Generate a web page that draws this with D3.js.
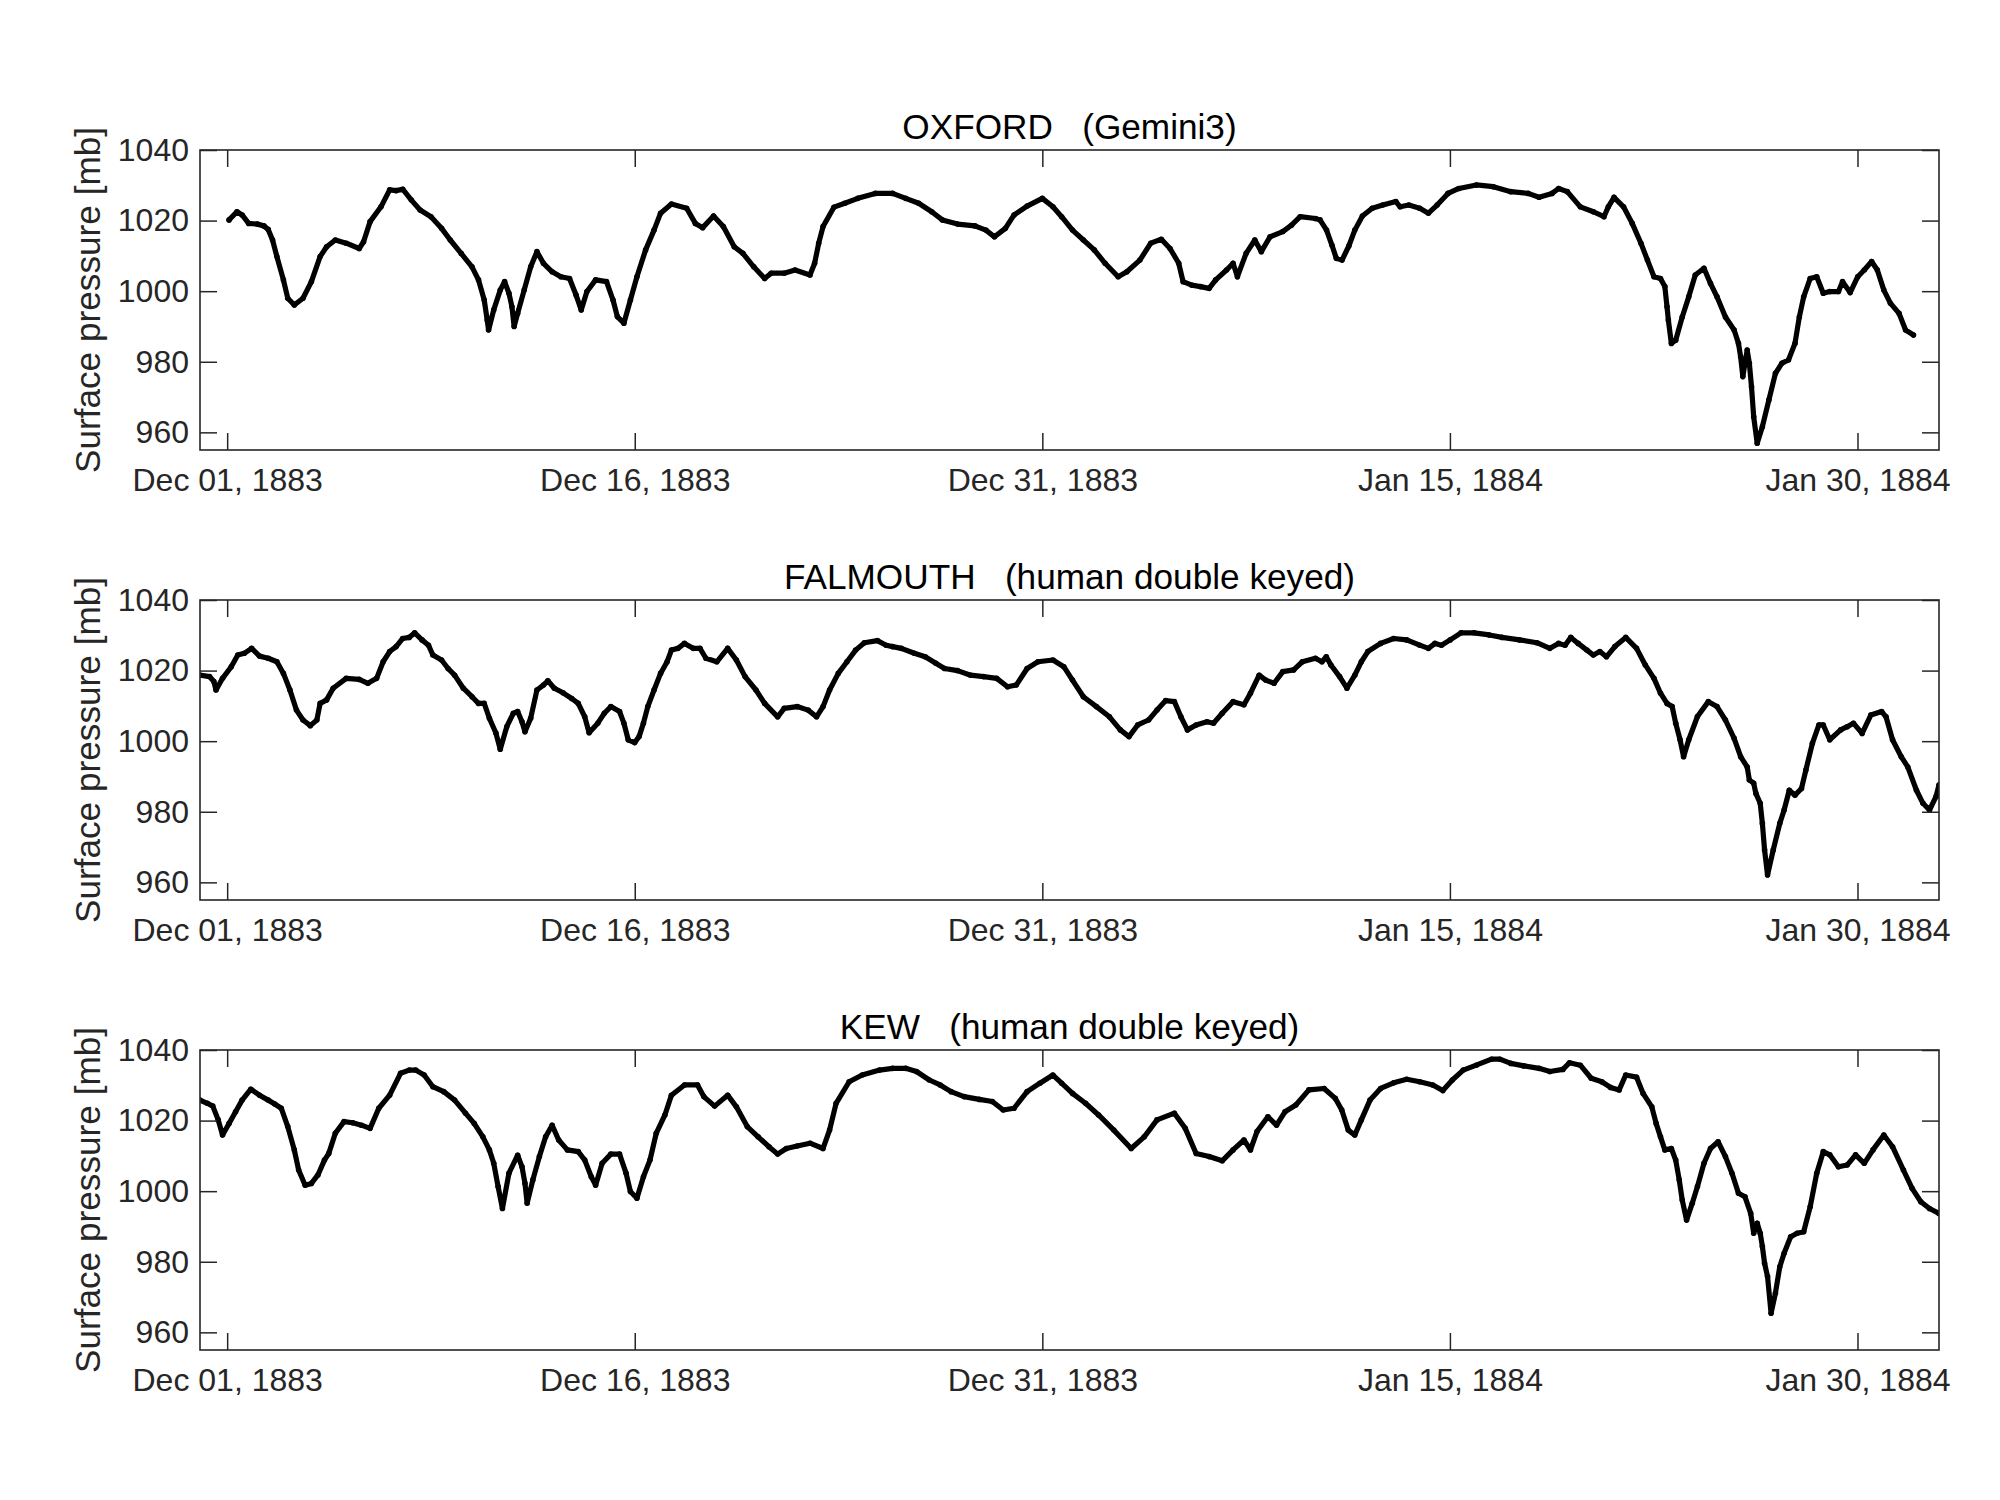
<!DOCTYPE html>
<html><head><meta charset="utf-8">
<script src="https://cdn.jsdelivr.net/npm/d3@7"></script>
<style>body{margin:0;background:#fff}</style>
</head><body>
<svg id="chart" width="2000" height="1500"></svg>
<script>
// ---------------- data ----------------
const stationTitles = ["OXFORD   (Gemini3)", "FALMOUTH   (human double keyed)", "KEW   (human double keyed)"];
const yLabel = "Surface pressure [mb]";
const yTicks = [960, 980, 1000, 1020, 1040];
const xTickDays = [1, 16, 31, 46, 61];            // days after 30 Nov 1883 00:00 UTC
const xTickLabels = ["Dec 01, 1883", "Dec 16, 1883", "Dec 31, 1883", "Jan 15, 1884", "Jan 30, 1884"];

// times: days after 30 Nov 1883 00:00; values: surface pressure (mb)
const oxfordDays = [1.07,1.36,1.55,1.79,2.11,2.35,2.51,2.67,2.83,3.07,3.23,3.47,3.79,4.10,4.42,4.66,4.98,5.38,5.86,6.02,6.26,6.66,6.98,7.22,7.46,7.78,8.10,8.50,8.89,9.21,9.61,10.01,10.25,10.46,10.57,10.62,10.81,11.05,11.21,11.37,11.48,11.56,11.69,11.93,12.17,12.40,12.64,12.96,13.28,13.60,13.84,14.03,14.24,14.56,14.96,15.20,15.36,15.60,15.84,16.08,16.40,16.71,16.95,17.35,17.91,18.23,18.50,18.90,19.26,19.66,19.98,20.38,20.78,21.02,21.50,21.90,22.45,22.62,22.77,22.93,23.33,23.73,24.21,24.85,25.49,25.97,26.45,26.93,27.32,27.88,28.52,28.92,29.24,29.64,29.96,30.44,31.00,31.39,31.71,32.11,32.51,32.91,33.31,33.79,34.11,34.59,34.99,35.38,35.70,36.02,36.18,36.50,36.82,37.14,37.38,37.78,38.02,38.18,38.50,38.82,39.06,39.38,39.85,40.17,40.49,41.05,41.22,41.46,41.66,41.82,42.03,42.28,42.50,42.78,43.14,43.53,44.01,44.17,44.49,44.89,45.21,45.53,45.93,46.33,46.97,47.60,48.24,48.88,49.28,49.76,50.00,50.32,50.80,51.28,51.67,51.83,52.04,52.39,52.71,53.03,53.27,53.51,53.75,53.91,53.99,54.04,54.15,54.31,54.55,54.79,55.03,55.35,55.59,55.83,56.14,56.46,56.62,56.70,56.78,56.94,57.02,57.10,57.18,57.31,57.50,57.74,57.98,58.22,58.46,58.70,58.86,59.02,59.26,59.50,59.74,59.98,60.30,60.45,60.73,61.01,61.25,61.52,61.73,61.97,62.21,62.53,62.77,63.06];
const oxfordValues = [1020.2,1022.5,1021.6,1019.2,1019.0,1018.5,1017.5,1014.5,1009.8,1003.2,998.0,996.1,998.0,1002.7,1009.8,1012.6,1014.5,1013.6,1012.1,1014.0,1019.7,1023.9,1028.7,1028.5,1028.9,1025.8,1023.0,1021.1,1017.8,1014.5,1010.7,1006.9,1003.2,997.5,991.8,989.0,994.7,1000.3,1002.7,999.4,995.6,990.0,993.7,1000.3,1006.9,1011.2,1007.9,1005.5,1004.1,1003.6,998.9,994.7,999.9,1003.2,1002.7,997.5,992.8,990.9,997.5,1004.1,1011.7,1017.3,1022.1,1024.7,1023.5,1019.2,1018.0,1021.3,1018.3,1012.6,1010.7,1006.9,1003.6,1005.1,1005.1,1006.0,1004.6,1007.9,1013.6,1018.3,1023.8,1024.9,1026.3,1027.7,1027.7,1026.3,1024.9,1022.5,1020.2,1019.0,1018.5,1017.3,1015.4,1017.8,1021.6,1024.1,1026.3,1023.9,1021.1,1017.3,1014.5,1011.7,1007.9,1004.1,1005.5,1008.8,1013.6,1014.7,1012.1,1007.9,1002.7,1001.7,1001.3,1000.8,1003.2,1006.0,1007.9,1004.1,1010.7,1014.5,1011.2,1015.4,1016.9,1018.7,1021.1,1020.6,1020.2,1017.3,1013.0,1009.3,1008.8,1012.8,1017.3,1021.3,1023.5,1024.4,1025.4,1023.9,1024.4,1023.5,1022.1,1024.4,1027.7,1029.1,1030.1,1029.6,1028.2,1027.7,1026.6,1027.7,1029.1,1028.2,1023.9,1022.5,1021.1,1023.9,1026.6,1023.9,1019.2,1013.6,1008.8,1004.1,1003.6,1001.3,995.6,991.8,985.2,986.1,992.7,998.4,1004.6,1006.5,1002.2,998.4,992.7,989.0,985.2,981.4,975.8,983.3,979.6,972.9,964.4,956.9,961.6,969.2,976.7,979.6,980.5,985.2,992.7,998.4,1003.6,1004.1,999.4,999.9,999.9,1002.7,999.6,1004.1,1006.0,1008.4,1006.0,1000.3,996.6,993.7,989.0,987.6];

const falmouthDays = [0.00,0.35,0.51,0.59,0.83,1.15,1.39,1.63,1.90,2.19,2.51,2.83,3.07,3.31,3.55,3.79,4.06,4.30,4.42,4.66,4.90,5.38,5.86,6.18,6.50,6.74,6.98,7.22,7.46,7.70,7.90,8.17,8.41,8.57,8.89,9.13,9.37,9.69,10.01,10.25,10.46,10.65,10.89,11.05,11.29,11.53,11.69,11.85,11.96,12.17,12.40,12.64,12.80,13.04,13.36,13.68,13.92,14.16,14.32,14.64,14.88,15.12,15.44,15.60,15.76,16.00,16.16,16.32,16.48,16.71,16.95,17.19,17.35,17.59,17.83,18.15,18.40,18.62,19.02,19.42,19.74,20.06,20.46,20.78,21.26,21.50,21.98,22.38,22.69,22.93,23.17,23.49,23.81,24.13,24.45,24.93,25.25,25.49,25.81,26.29,26.69,27.08,27.40,27.88,28.36,28.84,29.32,29.72,30.04,30.44,30.84,31.39,31.79,32.11,32.51,32.99,33.47,33.87,34.19,34.51,34.91,35.22,35.54,35.86,36.10,36.34,36.66,37.06,37.30,37.62,38.02,38.42,38.66,38.98,39.22,39.53,39.85,40.25,40.57,41.05,41.29,41.45,41.62,41.94,42.21,42.50,42.74,42.98,43.45,43.93,44.41,44.89,45.21,45.45,45.69,46.01,46.41,46.89,47.45,47.92,48.56,49.20,49.68,50.00,50.24,50.45,50.72,51.04,51.28,51.52,51.76,52.07,52.47,52.87,53.19,53.51,53.75,53.99,54.18,54.31,54.47,54.60,54.79,55.11,55.51,55.83,56.14,56.46,56.70,56.94,57.02,57.18,57.26,57.42,57.50,57.58,57.69,57.90,58.14,58.30,58.49,58.70,58.94,59.10,59.34,59.58,59.74,59.98,60.38,60.62,60.85,61.17,61.49,61.89,62.05,62.29,62.61,62.85,63.17,63.41,63.65,63.89,64.00];
const falmouthValues = [1018.7,1018.3,1016.9,1014.5,1017.8,1021.1,1024.4,1024.9,1026.3,1024.1,1023.5,1022.5,1019.2,1014.5,1008.8,1006.0,1004.4,1006.0,1010.7,1011.7,1015.0,1017.8,1017.5,1016.4,1017.8,1022.5,1025.4,1026.8,1029.1,1029.4,1030.7,1028.7,1027.2,1024.4,1023.0,1020.6,1018.7,1015.0,1012.6,1010.7,1010.7,1006.5,1002.3,997.7,1004.1,1007.9,1008.4,1005.5,1002.7,1006.5,1014.5,1015.9,1017.1,1015.0,1013.7,1012.1,1010.7,1006.9,1002.4,1005.1,1007.9,1009.8,1008.4,1005.1,1000.4,999.6,1001.3,1005.1,1009.8,1014.5,1019.2,1022.5,1025.8,1026.3,1027.7,1026.3,1026.3,1023.5,1022.5,1026.3,1023.0,1018.3,1014.5,1010.7,1006.9,1009.3,1009.8,1008.8,1006.9,1009.8,1014.5,1019.2,1022.5,1025.8,1027.9,1028.5,1027.2,1026.8,1026.3,1024.9,1023.9,1022.1,1020.6,1020.0,1018.7,1018.3,1017.8,1015.4,1015.9,1020.6,1022.5,1023.0,1021.1,1017.3,1012.6,1009.8,1006.9,1003.2,1001.3,1004.6,1006.0,1008.8,1011.5,1011.2,1006.9,1003.2,1004.6,1005.5,1005.1,1007.9,1011.2,1010.3,1013.6,1018.7,1017.3,1016.4,1019.7,1020.2,1022.5,1023.5,1022.5,1023.9,1021.6,1018.3,1015.0,1018.7,1022.5,1025.4,1027.7,1029.1,1028.7,1027.2,1026.3,1027.7,1027.2,1028.7,1030.7,1030.7,1030.1,1029.4,1028.7,1027.9,1026.3,1027.7,1027.2,1029.4,1027.7,1025.8,1024.4,1025.4,1023.9,1026.8,1029.4,1026.3,1021.6,1017.8,1013.6,1010.7,1009.8,1005.1,1000.4,995.6,1000.4,1007.0,1011.2,1009.8,1006.0,1000.8,995.6,992.7,989.0,988.1,985.2,982.4,976.7,969.2,962.1,969.2,976.7,980.5,986.1,984.7,986.6,991.8,999.4,1004.6,1004.6,1000.4,1003.2,1004.1,1005.1,1002.2,1007.4,1008.4,1006.9,1000.4,995.6,992.7,986.1,982.4,980.5,984.3,987.6];

const kewDays = [0.00,0.27,0.47,0.67,0.83,1.07,1.31,1.55,1.87,2.19,2.51,2.75,2.99,3.23,3.47,3.63,3.87,4.10,4.34,4.58,4.74,4.98,5.30,5.62,5.94,6.26,6.58,6.98,7.38,7.70,7.94,8.25,8.57,8.97,9.37,9.77,10.09,10.41,10.65,10.81,10.97,11.13,11.37,11.69,11.85,11.96,12.04,12.25,12.49,12.72,12.96,13.20,13.52,13.92,14.16,14.40,14.56,14.80,15.12,15.44,15.68,15.84,16.08,16.32,16.56,16.79,17.11,17.35,17.83,18.31,18.54,18.94,19.42,19.74,20.14,20.54,20.94,21.26,21.58,21.98,22.45,22.93,23.17,23.41,23.89,24.37,25.01,25.49,25.97,26.37,26.84,27.24,27.64,28.12,28.68,29.16,29.56,29.96,30.44,30.91,31.39,31.71,32.11,32.59,33.07,33.63,34.27,34.75,35.22,35.86,36.26,36.66,37.14,37.62,38.02,38.42,38.66,38.90,39.30,39.62,39.93,40.33,40.81,41.37,41.78,42.02,42.26,42.50,42.74,43.06,43.45,43.93,44.41,44.89,45.37,45.74,46.09,46.49,46.97,47.53,47.84,48.24,48.72,49.28,49.68,50.16,50.40,50.80,51.20,51.59,51.91,52.23,52.47,52.87,53.11,53.43,53.59,53.75,53.91,54.15,54.31,54.44,54.55,54.71,54.92,55.11,55.35,55.59,55.87,56.14,56.38,56.62,56.86,57.07,57.18,57.31,57.42,57.50,57.58,57.69,57.82,57.98,58.14,58.30,58.54,58.78,59.02,59.26,59.50,59.74,59.98,60.30,60.62,60.93,61.25,61.57,61.97,62.29,62.69,63.01,63.33,63.65,64.00];
const kewValues = [1025.8,1024.9,1024.1,1020.2,1015.9,1019.2,1022.5,1025.8,1028.9,1027.2,1025.8,1024.7,1023.5,1018.3,1011.7,1006.0,1001.7,1002.2,1004.6,1008.8,1010.7,1016.4,1019.7,1019.4,1018.7,1017.8,1023.5,1027.2,1033.4,1034.3,1034.3,1032.9,1029.6,1028.2,1025.8,1022.1,1019.2,1015.4,1011.7,1007.9,1001.3,995.1,1005.1,1010.2,1006.9,1002.2,996.6,1003.2,1009.8,1015.4,1018.7,1014.5,1011.7,1011.2,1008.8,1004.1,1001.7,1007.9,1010.5,1010.5,1005.1,999.9,998.0,1004.1,1008.8,1016.4,1021.6,1027.2,1030.1,1030.1,1026.8,1024.1,1027.2,1023.9,1018.3,1015.4,1012.6,1010.5,1012.1,1012.8,1013.6,1012.1,1017.3,1024.9,1031.0,1032.9,1034.3,1034.8,1034.8,1033.9,1031.5,1030.1,1028.2,1026.8,1026.0,1025.4,1023.0,1023.5,1028.2,1030.6,1032.9,1030.6,1027.7,1024.9,1021.6,1017.3,1012.1,1015.4,1020.2,1022.1,1017.8,1010.7,1009.8,1008.6,1011.7,1014.5,1011.7,1016.9,1021.1,1018.7,1022.5,1024.4,1028.7,1029.1,1026.3,1023.0,1017.3,1015.9,1020.2,1025.8,1029.1,1030.7,1031.7,1031.0,1030.1,1028.5,1031.5,1034.3,1035.7,1037.4,1037.4,1036.2,1035.5,1034.8,1033.9,1034.5,1036.4,1035.7,1032.0,1031.0,1029.4,1028.7,1032.9,1032.3,1027.7,1023.9,1019.2,1015.4,1011.7,1012.1,1008.8,1003.2,997.5,991.8,996.6,1001.3,1007.9,1012.1,1014.0,1009.8,1005.1,999.4,998.4,993.7,988.1,990.9,988.1,984.3,979.6,975.8,965.4,971.1,978.6,982.4,987.1,988.1,988.5,995.6,1005.1,1011.2,1010.3,1006.9,1007.4,1010.3,1007.9,1011.7,1015.9,1012.6,1006.0,1000.8,997.0,995.1,993.7];

const seriesDays = [oxfordDays, falmouthDays, kewDays];
const seriesValues = [oxfordValues, falmouthValues, kewValues];

// ---------------- drawing ----------------
const T0 = Date.UTC(1883, 10, 30);
const toDate = d => new Date(T0 + d * 864e5);
const FONT = "'Liberation Sans', Arial, Helvetica, sans-serif";
const svg = d3.select("#chart");
const left = 200, right = 1939, plotH = 300;
const tops = [150, 600, 1050];
const axisColor = "#262626";
const tickLen = 17;

const x = d3.scaleUtc().domain([toDate(0), toDate(64)]).range([left, right]);

tops.forEach((top, k) => {
  const y = d3.scaleLinear().domain([955, 1040]).range([top + plotH, top]);
  const g = svg.append("g");
  const clipId = "clip" + k;
  svg.append("clipPath").attr("id", clipId).append("rect")
    .attr("x", left).attr("y", top).attr("width", right - left).attr("height", plotH);

  const pts = seriesDays[k].map((d, i) => [toDate(d), seriesValues[k][i]]);
  const line = d3.line().x(p => x(p[0])).y(p => y(p[1]));
  g.append("path").datum(pts).attr("clip-path", `url(#${clipId})`)
    .attr("d", line).attr("fill", "none").attr("stroke", "#000")
    .attr("stroke-width", 5.2).attr("stroke-linejoin", "round").attr("stroke-linecap", "round");
  g.append("g").attr("clip-path", `url(#${clipId})`).selectAll("circle").data(pts).join("circle")
    .attr("cx", p => x(p[0])).attr("cy", p => y(p[1])).attr("r", 2.8).attr("fill", "#000");

  const xTickDates = xTickDays.map(toDate);
  const bottomAxis = d3.axisBottom(x).tickValues(xTickDates)
    .tickFormat((d, i) => xTickLabels[i]).tickSizeInner(-tickLen).tickSizeOuter(0).tickPadding(18.5);
  const topAxis = d3.axisTop(x).tickValues(xTickDates).tickFormat("")
    .tickSizeInner(-tickLen).tickSizeOuter(0);
  const leftAxis = d3.axisLeft(y).tickValues(yTicks).tickFormat(d3.format("d"))
    .tickSizeInner(-tickLen).tickSizeOuter(0).tickPadding(11);
  const rightAxis = d3.axisRight(y).tickValues(yTicks).tickFormat("")
    .tickSizeInner(-tickLen).tickSizeOuter(0);

  const axes = [
    g.append("g").attr("transform", `translate(0,${top + plotH})`).call(bottomAxis),
    g.append("g").attr("transform", `translate(0,${top})`).call(topAxis),
    g.append("g").attr("transform", `translate(${left},0)`).call(leftAxis),
    g.append("g").attr("transform", `translate(${right},0)`).call(rightAxis)
  ];
  axes.forEach(a => {
    a.select(".domain").remove();
    a.selectAll(".tick line").attr("stroke", axisColor).attr("stroke-width", 1.5);
    a.selectAll(".tick text").attr("fill", axisColor).attr("font-size", 32).attr("font-family", FONT);
  });

  g.append("rect").attr("x", left).attr("y", top).attr("width", right - left).attr("height", plotH)
    .attr("fill", "none").attr("stroke", axisColor).attr("stroke-width", 1.6);

  g.append("text").attr("x", (left + right) / 2).attr("y", top - 11)
    .attr("text-anchor", "middle").attr("font-family", FONT).attr("font-size", 35.2)
    .attr("fill", "#000").attr("xml:space", "preserve").style("white-space", "pre")
    .text(stationTitles[k]);

  g.append("text").attr("transform", `translate(100,${top + plotH / 2}) rotate(-90)`)
    .attr("text-anchor", "middle").attr("font-family", FONT).attr("font-size", 35.2)
    .attr("fill", axisColor).text(yLabel);
});
</script>
</body></html>
